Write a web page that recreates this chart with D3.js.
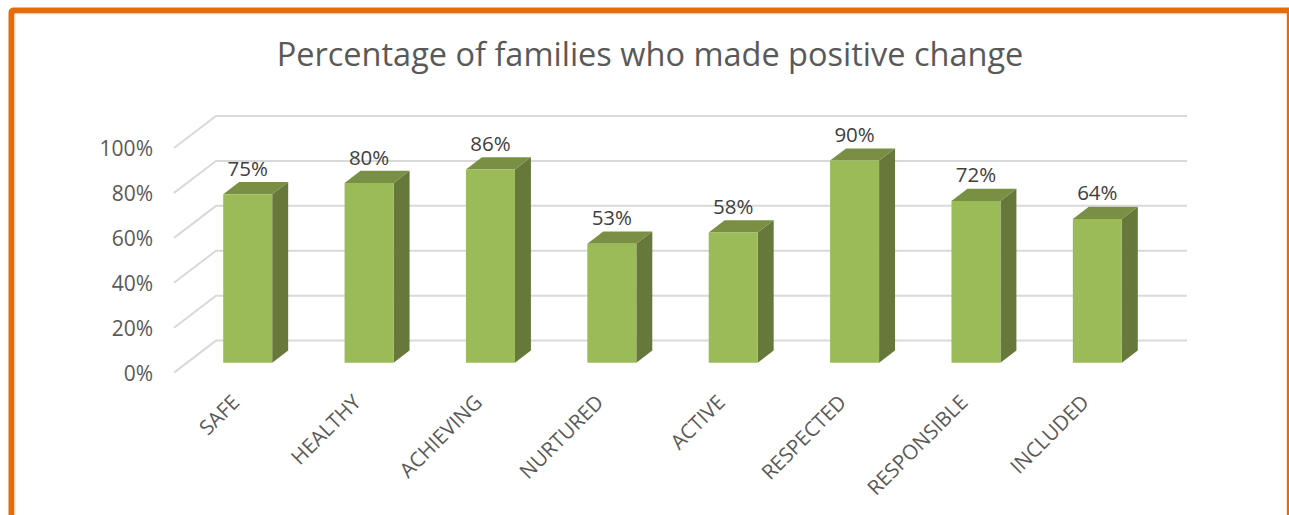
<!DOCTYPE html>
<html><head><meta charset="utf-8">
<script src="https://cdn.jsdelivr.net/npm/d3@7"></script>
<style>html,body{margin:0;padding:0;background:#fff;overflow:hidden}svg{display:block}text{font-family:"Open Sans",sans-serif}</style>
</head><body><svg id="c" width="1289" height="515"></svg>
<script>
const categories=["SAFE","HEALTHY","ACHIEVING","NURTURED","ACTIVE","RESPECTED","RESPONSIBLE","INCLUDED"];
const values=[75,80,86,53,58,90,72,64];
const yTicks=[0,20,40,60,80,100];
const titleText="Percentage of families who made positive change";

const svg=d3.select("#c");
const frontLeft=174,frontRight=1145,floorY=372.6,topY=148;
const depthX=42,depthY=-32;
const x=d3.scaleBand().domain(categories).range([frontLeft,frontRight]).paddingInner(0).paddingOuter(0);
const y=d3.scaleLinear().domain([0,100]).range([floorY,topY]);
const barW=49, zFront=0.31, zBack=0.69;

// frame
svg.append("path").attr("d","M11.5,515 V13 Q11.5,10.5 14,10.5 H1290 V515")
  .attr("fill","none").attr("stroke","#e46c0a").attr("stroke-width",6);
svg.append("path").attr("d","M15,515 V14 H1286.5 V515")
  .attr("fill","none").attr("stroke","#f8e3cf").attr("stroke-width",1);

// title
svg.append("text").attr("x",650).attr("y",66).attr("text-anchor","middle")
  .attr("font-size",32.5).attr("fill","#595959").text(titleText);

// gridlines
yTicks.forEach(t=>{
  const p=d3.path();
  p.moveTo(frontLeft,y(t));
  p.lineTo(frontLeft+depthX,y(t)+depthY);
  p.lineTo(frontRight+depthX,y(t)+depthY);
  svg.append("path").attr("d",p.toString()).attr("fill","none")
    .attr("stroke","#d9d9d9").attr("stroke-width",2);
  svg.append("text").attr("x",153).attr("y",y(t)+8).attr("text-anchor","end")
    .attr("font-size",21).attr("fill","#595959").text(t+"%");
});

// bars
categories.forEach((c,i)=>{
  const v=values[i];
  const cx=x(c)+x.bandwidth()/2+depthX*zFront;
  const l=cx-barW/2,r=cx+barW/2;
  const by=y(0)+depthY*zFront, ty=y(v)+depthY*zFront;
  const dx=depthX*(zBack-zFront), dy=depthY*(zBack-zFront);
  const poly=pts=>"M"+pts.map(p=>p.join(",")).join("L")+"Z";
  svg.append("path").attr("d",poly([[r,by],[r+dx,by+dy],[r+dx,ty+dy],[r,ty]])).attr("fill","#66783a");
  svg.append("path").attr("d",poly([[l,ty],[l+dx,ty+dy],[r+dx,ty+dy],[r,ty]])).attr("fill","#788f44");
  svg.append("path").attr("d",poly([[l,by],[r,by],[r,ty],[l,ty]])).attr("fill","#9bbb59");
  svg.append("text").attr("x",cx).attr("y",ty-18.5).attr("text-anchor","middle")
    .attr("font-size",20.5).attr("fill","#404040").text(v+"%");
  svg.append("text").attr("transform",`translate(${cx-7},${by+41}) rotate(-45)`).attr("text-anchor","end")
    .attr("font-size",20.5).attr("fill","#595959").text(c);
});
</script></body></html>
